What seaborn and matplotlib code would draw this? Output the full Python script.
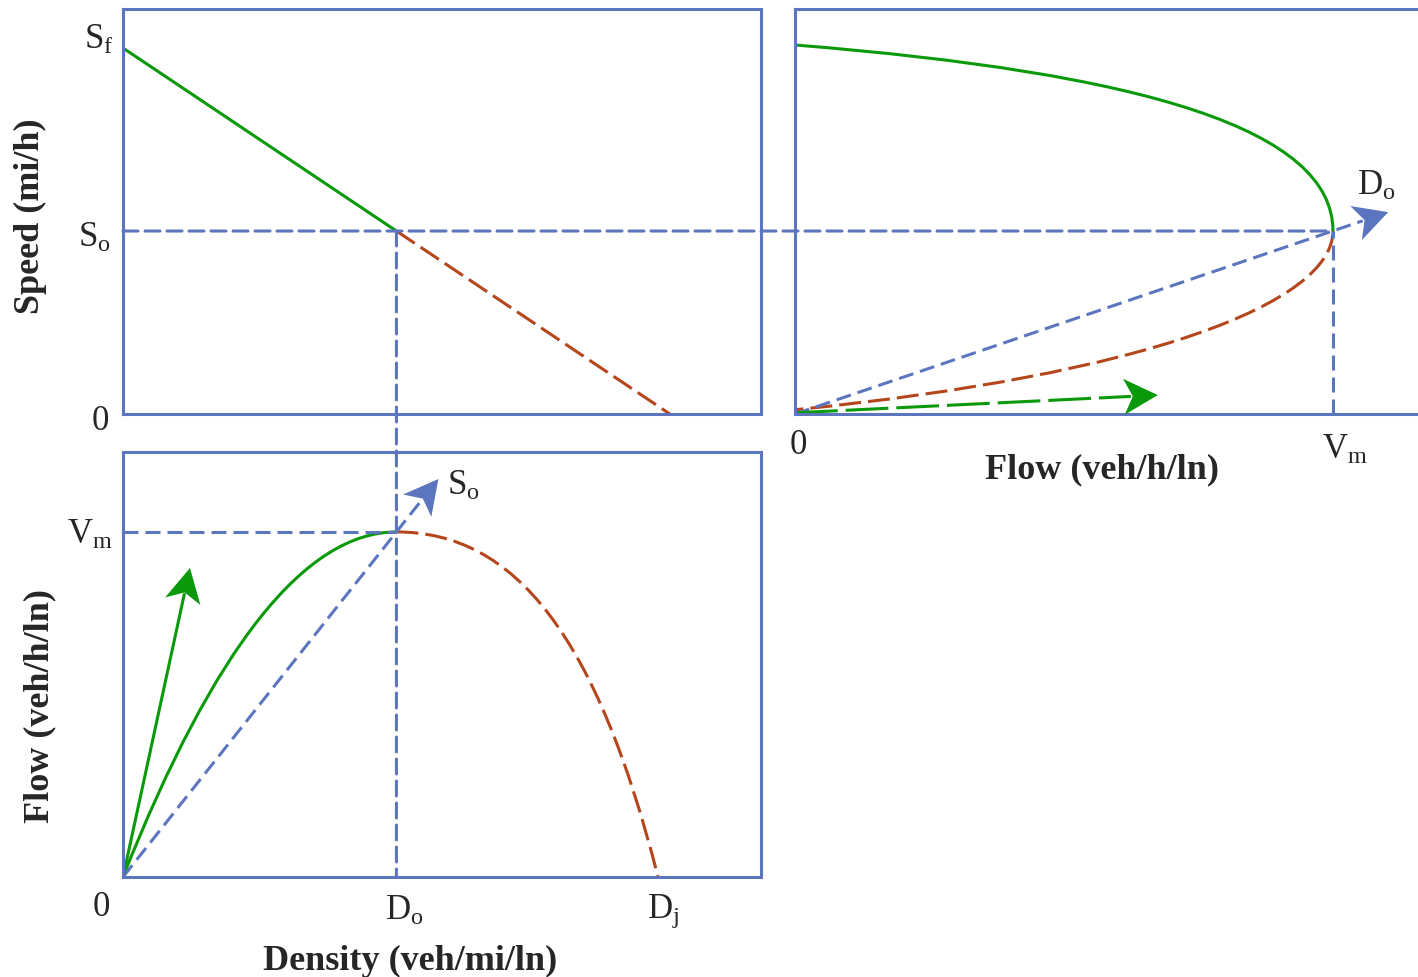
"""Fundamental diagram of traffic flow: speed-density, speed-flow and flow-density."""
import matplotlib.pyplot as plt
import numpy as np
import seaborn as sns
from matplotlib.patches import ConnectionPatch, PathPatch, Polygon
from matplotlib.path import Path

# Key values of the diagram (speed in mi/h, density in veh/mi/ln, flow in veh/h/ln)
SF = 60.0    # free-flow speed S_f
SO = 30.0    # optimum speed S_o
DO = 60.0    # optimum density D_o
DJ = 120.0   # jam density D_j
VM = 1800.0  # maximum flow V_m

# Speed vs density (straight line)
sd_density_free = [0, DO]
sd_speed_free = [SF, SO]
sd_density_cong = [DO, DJ]
sd_speed_cong = [SO, 0]

sf_free_flow = [0, 1171, 1800, 1800]
sf_free_speed = [60.5, 55.9, 46.6, 30.0]
sf_cong_flow = [1800, 1800, 1171, 0]
sf_cong_speed = [30.0, 18.2, 6.4, 0.7]

# Flow vs density: same idea
fd_free_density = [0, 20, 40, 60]
fd_free_flow = [0, 1200, 1800, 1800]
fd_cong_density = [60, 86.2, 104.0, 117.4]
fd_cong_flow = [1800, 1800, 1252, 0]

# Arrows (start, tip)
sf_ray = [(0, 0), (1985, 33.1)]        # D_o ray in speed-flow panel
sf_green = [(0, 0.2), (1214, 3.1)]
fd_ray = [(0, 0), (69.2, 2076)]        # S_o ray in flow-density panel
fd_green = [(0, 0), (14.7, 1612)]

BLUE = "#5b76be"
GREEN = "#0a990a"
BROWN = "#b5461b"
LW = 2.2
BLUE_DASH = (0, (4.9, 2.3))
BROWN_DASH = (0, (7.2, 2.3))
GREEN_DASH = (0, (14, 2.6))
FS = 25
TITLE_FS = 26

sns.set_theme(style="white")
plt.rcParams["font.family"] = ["Liberation Serif", "DejaVu Serif"]
plt.rcParams["mathtext.fontset"] = "custom"
plt.rcParams["mathtext.rm"] = "Liberation Serif"
plt.rcParams["mathtext.it"] = "Liberation Serif:italic"
plt.rcParams["mathtext.bf"] = "Liberation Serif:bold"

W, H = 1418, 977
fig = plt.figure(figsize=(W / 100, H / 100), dpi=100)


def px_axes(x0, y0, x1, y1):
    return fig.add_axes([x0 / W, 1 - y1 / H, (x1 - x0) / W, (y1 - y0) / H])


ax_sd = px_axes(123, 9, 761, 414)
ax_sf = px_axes(795, 9, 1422, 414)
ax_fd = px_axes(123, 452, 761, 877)

for ax in (ax_sd, ax_sf, ax_fd):
    ax.set_xticks([])
    ax.set_yticks([])
    for spine in ax.spines.values():
        spine.set_color(BLUE)
        spine.set_linewidth(LW)

ax_sd.set_xlim(0, 140)
ax_sd.set_ylim(0, 66.4)
ax_sf.set_xlim(0, 2098)
ax_sf.set_ylim(0, 66.4)
ax_fd.set_xlim(0, 140)
ax_fd.set_ylim(0, 2217)


def bezier(ax, xs, ys, color, ls="-"):
    codes = [Path.MOVETO, Path.CURVE4, Path.CURVE4, Path.CURVE4]
    path = Path(list(zip(xs, ys)), codes)
    ax.add_patch(PathPatch(path, facecolor="none", edgecolor=color, lw=LW, linestyle=ls,
                           capstyle="butt"))


def stealth_arrow(ax, start, tip, color, ls="-"):
    # head drawn in pixel space so it keeps its shape whatever the axis scales
    tr = ax.transData
    p0 = tr.transform(start)
    p1 = tr.transform(tip)
    u = (p1 - p0) / np.hypot(*(p1 - p0))
    n = np.array([-u[1], u[0]])
    length, half_w, notch = 34, 18, 25
    head = [p1, p1 - length * u + half_w * n, p1 - notch * u, p1 - length * u - half_w * n]
    ax.add_patch(Polygon(tr.inverted().transform(head), closed=True, facecolor=color,
                         edgecolor="none", zorder=3))
    end = tr.inverted().transform(p1 - (notch + 2) * u)
    ax.plot([start[0], end[0]], [start[1], end[1]], color=color, lw=LW, linestyle=ls)


def label(ax, s, xy, dx, dy, ha="center"):
    ax.annotate(s, xy=xy, xytext=(dx, dy), textcoords="offset pixels",
                ha=ha, va="center", fontsize=FS, annotation_clip=False)


# Speed vs density
sns.lineplot(x=sd_density_free, y=sd_speed_free, ax=ax_sd, color=GREEN, linewidth=LW)
sns.lineplot(x=sd_density_cong, y=sd_speed_cong, ax=ax_sd, color=BROWN, linewidth=LW,
             linestyle=BROWN_DASH)
ax_sd.set_xlim(0, 140)
ax_sd.set_ylim(0, 66.4)
label(ax_sd, r"$\mathrm{S_f}$", (0, SF), -9, 8, ha="right")
label(ax_sd, r"$\mathrm{S_o}$", (0, SO), -12, -7, ha="right")
label(ax_sd, "0", (0, 0), -14, -7, ha="right")

# Speed vs flow
bezier(ax_sf, sf_free_flow, sf_free_speed, GREEN)
bezier(ax_sf, sf_cong_flow, sf_cong_speed, BROWN, BROWN_DASH)
stealth_arrow(ax_sf, *sf_ray, BLUE, BLUE_DASH)
stealth_arrow(ax_sf, *sf_green, GREEN, GREEN_DASH)
ax_sf.plot([VM, VM], [0, SO], color=BLUE, lw=LW, linestyle=BLUE_DASH)
label(ax_sf, "0", (0, 0), 3, -31)
label(ax_sf, r"$\mathrm{V_m}$", (VM, 0), 12, -36)
label(ax_sf, r"$\mathrm{D_o}$", sf_ray[1], -12, 26)

# Flow vs density
bezier(ax_fd, fd_free_density, fd_free_flow, GREEN)
bezier(ax_fd, fd_cong_density, fd_cong_flow, BROWN, BROWN_DASH)
stealth_arrow(ax_fd, *fd_ray, BLUE, BLUE_DASH)
stealth_arrow(ax_fd, *fd_green, GREEN)
ax_fd.plot([0, DO], [VM, VM], color=BLUE, lw=LW, linestyle=BLUE_DASH)
label(ax_fd, r"$\mathrm{V_m}$", (0, VM), -10, -3, ha="right")
label(ax_fd, "0", (0, 0), -22, -30)
label(ax_fd, r"$\mathrm{D_o}$", (DO, 0), 8, -34)
label(ax_fd, r"$\mathrm{D_j}$", (fd_cong_density[-1], 0), 5, -34)
label(ax_fd, r"$\mathrm{S_o}$", fd_ray[1], 25, -7)

# Guide lines running across panels
for xyA, axA, xyB, axB in [((0, SO), ax_sd, (VM, SO), ax_sf),
                           ((DO, SO), ax_sd, (DO, 0), ax_fd)]:
    fig.add_artist(ConnectionPatch(xyA=xyA, coordsA=axA.transData, xyB=xyB, coordsB=axB.transData,
                                   color=BLUE, lw=LW, linestyle=BLUE_DASH))

# Axis titles
title_kw = dict(fontsize=TITLE_FS, fontweight="bold", ha="center", va="center")
fig.text(30 / W, 1 - 216 / H, "Speed (mi/h)", rotation=90, **title_kw)
fig.text(40 / W, 1 - 706 / H, "Flow (veh/h/ln)", rotation=90, **title_kw)
fig.text(410 / W, 1 - 961 / H, "Density (veh/mi/ln)", **title_kw)
fig.text(1102 / W, 1 - 470 / H, "Flow (veh/h/ln)", **title_kw)

fig.savefig("out.png", dpi=100)
